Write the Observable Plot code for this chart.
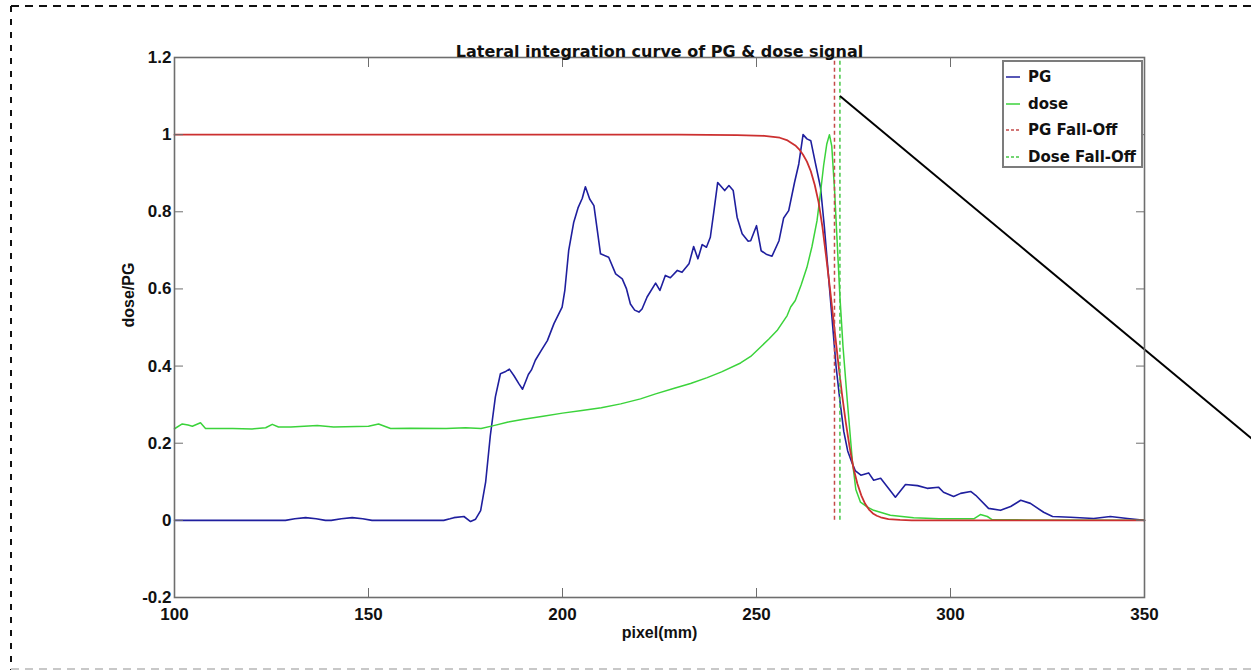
<!DOCTYPE html>
<html>
<head>
<meta charset="utf-8">
<script src="https://cdn.jsdelivr.net/npm/d3@7"></script>
<script src="https://cdn.jsdelivr.net/npm/@observablehq/plot@0.6"></script>
<style>
  html, body { margin: 0; padding: 0; background: #fff; }
  #wrap { position: relative; width: 1251px; height: 670px; overflow: hidden; }
  #chart svg { display: block; }
  #border { position: absolute; left: 0; top: 0; pointer-events: none; }
  #legend {
    position: absolute; left: 1002px; top: 60px; width: 141px; height: 108px;
    box-sizing: border-box; border: 2px solid #7c7c7c; background: #fff;
    font-family: "DejaVu Sans", sans-serif; font-weight: bold; font-size: 15px; color: #111;
  }
  #legend .row { position: absolute; left: 0; height: 20px; display: flex; align-items: center; }
  #legend svg { margin-left: 2px; margin-right: 8px; }
</style>
</head>
<body>
<div id="wrap">
  <div id="chart"></div>
  <div id="legend"></div>
</div>
<script>
// Lateral integration profiles (pixel in mm, normalised signal)
const pgX = [100, 128.6, 131, 133.8, 136.5, 138.9, 140.4, 143, 145.8, 148.5, 150.9, 169.4, 171, 172, 174.6, 176.3, 177.6,
  178.9, 180.2, 181.4, 182.7, 184, 185.2, 186.3, 187.5, 188.7, 189.7, 190.5, 191.2, 192, 193, 194.5, 196.1, 197.8,
  199.9, 200.6, 201.6, 202.9, 204, 205.1, 205.9, 207, 208.1, 209, 209.8, 211.9, 213.7, 215.4, 216.5, 217.5, 218.6,
  219.7, 220.5, 221.8, 224, 225.1, 226.5, 227.8, 229.6, 230.8, 232.6, 233.8, 234.9, 236, 237.1, 238.1, 239, 240,
  241.8, 242.9, 244, 245, 246.3, 247.8, 248.5, 250, 251.2, 252.5, 254, 255.8, 257, 258.3, 259.8, 260.9, 262, 263,
  264, 265.1, 266.5, 267.5, 268.5, 269.5, 270.5, 271.5, 272.5, 273.5, 274.7, 275.5, 276.9, 278.9, 280.2, 282,
  285.8, 288.4, 291.5, 294, 296.9, 298.2, 300.8, 302.6, 305.2, 306.5, 309.8, 312.9, 315.5, 318.1, 320.6, 324,
  326.3, 330.9, 336.9, 341.2, 345.6, 350];
const pgY = [0, 0, 0.004, 0.007, 0.004, 0, 0, 0.004, 0.007, 0.004, 0, 0, 0.004, 0.007, 0.01, -0.003, 0.003,
  0.025, 0.1, 0.22, 0.32, 0.38, 0.385, 0.392, 0.375, 0.355, 0.34, 0.36, 0.378, 0.39, 0.415, 0.44, 0.466, 0.51,
  0.553, 0.596, 0.7, 0.773, 0.81, 0.835, 0.865, 0.833, 0.816, 0.75, 0.691, 0.682, 0.639, 0.626, 0.6, 0.561, 0.545,
  0.54, 0.548, 0.579, 0.615, 0.596, 0.635, 0.629, 0.648, 0.643, 0.665, 0.71, 0.678, 0.715, 0.708, 0.734, 0.8, 0.876,
  0.855, 0.868, 0.855, 0.786, 0.743, 0.724, 0.725, 0.764, 0.699, 0.69, 0.685, 0.725, 0.784, 0.803, 0.876, 0.924, 1.0, 0.989,
  0.984, 0.93, 0.863, 0.76, 0.64, 0.52, 0.4, 0.31, 0.23, 0.18, 0.147, 0.128, 0.117, 0.123, 0.104, 0.109,
  0.06, 0.093, 0.09, 0.083, 0.086, 0.073, 0.062, 0.07, 0.075, 0.065, 0.031, 0.026, 0.036, 0.052, 0.044, 0.021,
  0.01, 0.008, 0.005, 0.01, 0.005, 0];

const doseX = [100, 102, 103.5, 104.6, 106.7, 108, 115, 120, 123.5, 125.2, 126.8, 130, 136.8, 141, 150, 152.6, 155.7,
  160.8, 170, 175, 179, 182, 186, 190, 195, 200, 205, 210, 215, 220.1, 224, 228.6, 233, 237.3, 241, 245.9, 248.5,
  251, 253.2, 255.3, 257.9, 258.8, 260, 261.5, 263, 264.3, 265.6, 266.5, 267.3, 268.1, 268.8, 269.4, 270.1, 270.8,
  271.5, 272.3, 273.4, 274.7, 275.6, 276.8, 278.5, 280.2, 284.5, 290.5, 297, 306, 307.7, 309.5, 310.7, 320, 350];
const doseY = [0.2375, 0.25, 0.247, 0.244, 0.253, 0.238, 0.238, 0.237, 0.24, 0.249, 0.242, 0.242, 0.246, 0.242, 0.244,
  0.25, 0.238, 0.239, 0.238, 0.24, 0.238, 0.245, 0.255, 0.262, 0.27, 0.278, 0.285, 0.292, 0.302, 0.315, 0.328,
  0.342, 0.355, 0.37, 0.385, 0.408, 0.425, 0.449, 0.47, 0.492, 0.531, 0.553, 0.57, 0.61, 0.656, 0.71, 0.777, 0.85,
  0.92, 0.975, 1.0, 0.97, 0.86, 0.72, 0.58, 0.45, 0.31, 0.155, 0.08, 0.047, 0.035, 0.026, 0.013, 0.007, 0.004,
  0.004, 0.015, 0.01, 0.002, 0.001, 0];

// Fitted PG fall-off (sigmoid-shaped edge)
const fitX = [100, 230, 245, 252, 256, 258, 260, 261, 262, 263, 264, 265, 266, 267, 268, 269, 270, 271, 272, 273,
  274, 275, 276, 277, 278, 279, 280, 281, 282, 284, 287, 290, 350];
const fitY = [1, 1, 0.999, 0.997, 0.992, 0.985, 0.972, 0.962, 0.948, 0.93, 0.905, 0.87, 0.825, 0.76, 0.68, 0.595,
  0.505, 0.415, 0.33, 0.255, 0.19, 0.135, 0.095, 0.065, 0.043, 0.028, 0.018, 0.012, 0.008, 0.003, 0.001, 0, 0];

// 50% fall-off positions
const fallOffNames = ["PG Fall-Off", "Dose Fall-Off"];
const fallOffX = [270.1, 271.5];

// pointer line drawn from the dose fall-off marker out past the plot edge
const pointerFrom = [271.5, 1.1];
const pointerTo = [377.6, 0.212];

const xTicks = [100, 150, 200, 250, 300, 350];
const yTicks = [-0.2, 0, 0.2, 0.4, 0.6, 0.8, 1, 1.2];
const yTickLabels = ["-0.2", "0", "0.2", "0.4", "0.6", "0.8", "1", "1.2"];

const seriesNames = ["PG", "dose"];
const colors = {PG: "#1f1f9e", dose: "#3bd33b", fit: "#cc3030", pgDash: "#c44a4a", doseDash: "#45c845"};

const toRows = (xs, ys) => xs.map((x, i) => ({x, y: ys[i]}));
const pg = toRows(pgX, pgY);
const dose = toRows(doseX, doseY);
const fit = toRows(fitX, fitY);

const axisGray = "#6e6e6e";
const tickFont = "'Liberation Sans', Arial, Helvetica, sans-serif";
const blank = () => "";

const chart = Plot.plot({
  width: 1251,
  height: 670,
  marginLeft: 174,
  marginRight: 107,
  marginTop: 57,
  marginBottom: 73,
  style: {fontFamily: tickFont, fontWeight: "bold", fontSize: "17px", color: "#111", background: "transparent"},
  x: {domain: [100, 350], label: null},
  y: {domain: [-0.2, 1.2], label: null},
  marks: [
    Plot.line(pg, {x: "x", y: "y", stroke: colors.PG, strokeWidth: 1.6}),
    Plot.line(dose, {x: "x", y: "y", stroke: colors.dose, strokeWidth: 1.5}),
    Plot.line(fit, {x: "x", y: "y", stroke: colors.fit, strokeWidth: 1.8}),
    Plot.ruleX([fallOffX[0]], {y1: 0, y2: 1.2, stroke: colors.pgDash, strokeWidth: 1.5, strokeDasharray: "4,3"}),
    Plot.ruleX([fallOffX[1]], {y1: 0, y2: 1.2, stroke: colors.doseDash, strokeWidth: 1.5, strokeDasharray: "4,3"}),
    Plot.link([{x1: pointerFrom[0], y1: pointerFrom[1], x2: pointerTo[0], y2: pointerTo[1]}],
      {x1: "x1", y1: "y1", x2: "x2", y2: "y2", stroke: "#000", strokeWidth: 2}),
    Plot.frame({stroke: axisGray, strokeWidth: 1.6}),
    // inward ticks on all four sides
    Plot.axisX(xTicks, {anchor: "bottom", tickSize: -9, tickFormat: blank, stroke: axisGray, label: null}),
    Plot.axisX(xTicks, {anchor: "top", tickSize: -9, tickFormat: blank, stroke: axisGray, label: null}),
    Plot.axisY(yTicks, {anchor: "left", tickSize: -9, tickFormat: blank, stroke: axisGray, label: null}),
    Plot.axisY(yTicks, {anchor: "right", tickSize: -9, tickFormat: blank, stroke: axisGray, label: null}),
    // tick labels
    Plot.axisX(xTicks, {anchor: "bottom", tickSize: 0, tickPadding: 10, label: null, fill: "#111"}),
    Plot.axisY(yTicks, {anchor: "left", tickSize: 0, tickPadding: 3, label: null, fill: "#111",
      tickFormat: d => yTickLabels[yTicks.indexOf(d)]}),
    // axis titles and chart title
    Plot.text(["pixel(mm)"], {frameAnchor: "bottom", dy: 40, fontSize: 16, fontWeight: "bold", fill: "#111"}),
    Plot.text(["dose/PG"], {frameAnchor: "left", dx: -46, rotate: -90, fontSize: 16, fontWeight: "bold", fill: "#111"}),
    Plot.text(["Lateral integration curve of PG & dose signal"], {frameAnchor: "top", dy: -12, fontSize: 16,
      fontWeight: "bold", fontFamily: "'DejaVu Sans', sans-serif", fill: "#111"})
  ]
});
document.getElementById("chart").appendChild(chart);

// Legend
const legendItems = [
  {name: seriesNames[0], color: colors.PG, dash: null},
  {name: seriesNames[1], color: colors.dose, dash: null},
  {name: fallOffNames[0], color: colors.pgDash, dash: "3,2"},
  {name: fallOffNames[1], color: colors.doseDash, dash: "3,2"}
];
const legend = document.getElementById("legend");
legendItems.forEach((it, i) => {
  const row = document.createElement("div");
  row.className = "row";
  row.style.top = (5 + i * 26.7) + "px";
  row.innerHTML = `<svg width="14" height="4"><line x1="0" x2="14" y1="2" y2="2" stroke="${it.color}" stroke-width="1.5"${it.dash ? ` stroke-dasharray="${it.dash}"` : ""}/></svg><span>${it.name}</span>`;
  legend.appendChild(row);
});

// Dashed page border
const ns = "http://www.w3.org/2000/svg";
const border = document.createElementNS(ns, "svg");
border.setAttribute("id", "border");
border.setAttribute("width", 1251);
border.setAttribute("height", 670);
border.innerHTML = `
  <line x1="11" y1="6" x2="1251" y2="6" stroke="#111" stroke-width="2" stroke-dasharray="8,6"/>
  <line x1="11" y1="6" x2="11" y2="670" stroke="#111" stroke-width="2" stroke-dasharray="6,7"/>
  <line x1="11" y1="669" x2="1251" y2="669" stroke="#c8c8c8" stroke-width="2" stroke-dasharray="8,6"/>`;
document.getElementById("wrap").appendChild(border);
</script>
</body>
</html>
